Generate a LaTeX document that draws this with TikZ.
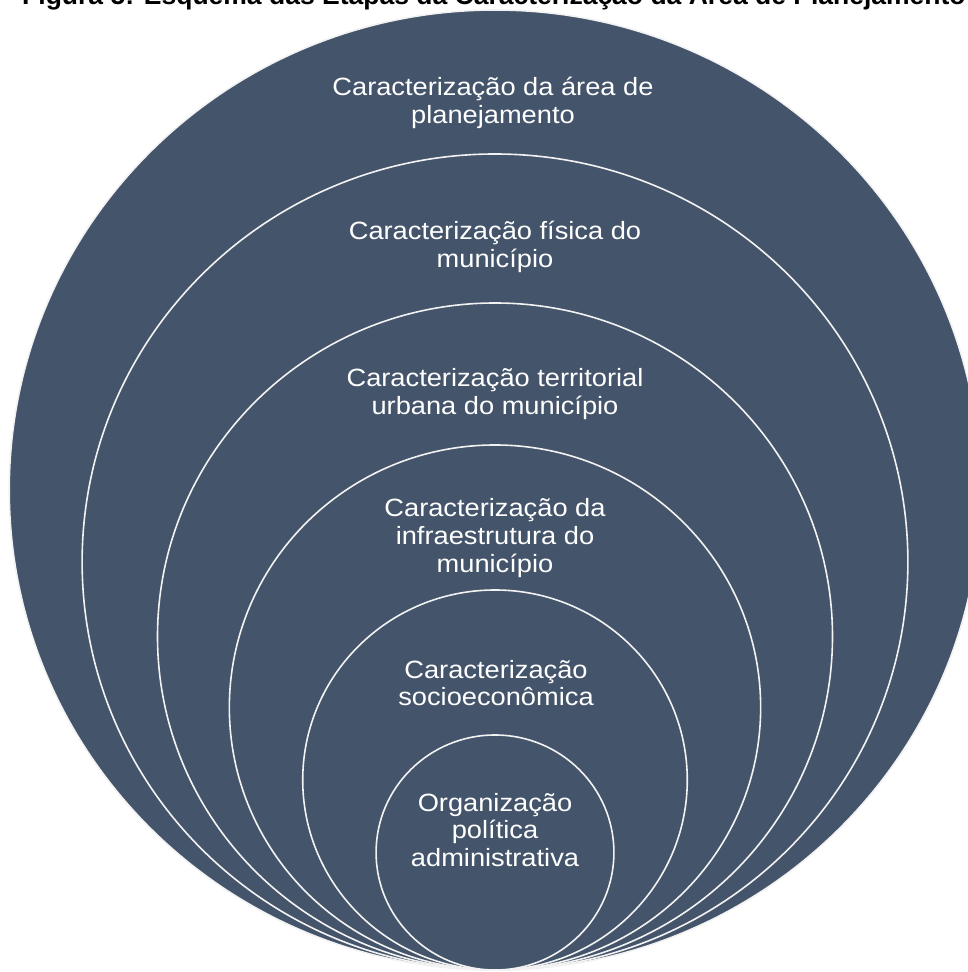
\documentclass[tikz,border=0pt]{standalone}
\usepackage{fontspec}
\setmainfont{Liberation Sans}
\newfontfamily\lblfont[FakeStretch=1.09]{Liberation Sans}
\definecolor{ringfill}{HTML}{44546A}
\begin{document}
\begin{tikzpicture}[x=1pt,y=1pt,
  ring/.style={fill=ringfill,draw=white!90!gray,line width=1.6pt},
  lbl/.style={text=white,align=center,inner sep=0pt,font=\lblfont\fontsize{25}{27.6}\selectfont},
  ttl/.style={anchor=base west,inner sep=0pt,font=\fontsize{26.5}{30}\selectfont\bfseries}]
\useasboundingbox (0,0) rectangle (968,972);
\clip (0,0) rectangle (968,972);
\foreach \r in {480,408,333.5,262.5,190,117.5}{
  \draw[ring] (495,{2+\r}) ellipse [x radius={1.012*\r}, y radius=\r];
}
\node[ttl] (title) at (22,967.2) {Figura 5: Esquema das Etapas da Caracterização da Área de Planejamento};
\node[lbl] (l1) at (493,869) {Caracterização da área de\\planejamento};
\node[lbl] (l2) at (495,725) {Caracterização física do\\município};
\node[lbl] (l3) at (495,578) {Caracterização territorial\\urbana do município};
\node[lbl] (l4) at (495,434) {Caracterização da\\infraestrutura do\\município};
\node[lbl] (l5) at (496,289) {Caracterização\\socioeconômica};
\node[lbl] (l6) at (495,142) {Organização\\política\\administrativa};
\end{tikzpicture}
\end{document}
